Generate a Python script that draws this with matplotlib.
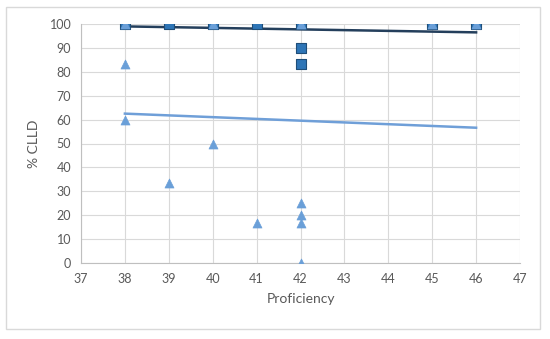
import matplotlib
import numpy as np

matplotlib.use('Agg')
import matplotlib.pyplot as plt
from matplotlib.patches import Rectangle

# данные: квадраты (тёмно-синие) и треугольники (светло-синие)
sq_x = [38, 39, 40, 41, 42, 42, 42, 45, 46]
sq_y = [100, 100, 100, 100, 100, 90, 83.3, 100, 100]

tri_x = [38, 38, 38, 39, 40, 40, 41, 42, 42, 42, 42, 42, 45, 46]
tri_y = [100, 83.3, 60, 33.3, 100, 50, 16.7, 100, 25, 20, 16.7, 0, 100, 100]

# линии тренда (концы)
trend_x = [38, 46]
trend_sq_y = [99.0, 96.5]
trend_tri_y = [62.5, 56.6]

x_ticks = list(range(37, 48))
y_ticks = list(range(0, 101, 10))

plt.rcParams['font.family'] = ['Lato', 'DejaVu Sans']

fig = plt.figure(figsize=(5.5, 3.39), dpi=100)
ax = fig.add_axes([81 / 550, 1 - 263 / 339, (520 - 81) / 550, (263 - 24) / 339])

# рамка вокруг диаграммы
fig.patches.append(Rectangle((6 / 550, 1 - 329 / 339), 534 / 550, 322 / 339,
                             transform=fig.transFigure, fill=False,
                             edgecolor='#d9d9d9', linewidth=1))

ax.plot(trend_x, trend_sq_y, color='#243f5c', linewidth=1.8, zorder=2)
ax.plot(trend_x, trend_tri_y, color='#6f9fd8', linewidth=1.8, zorder=2)

ax.scatter(sq_x, sq_y, marker='s', s=45, color='#2e75b6', edgecolors='#1f4e79',
           linewidths=0.8, zorder=3)
ax.scatter(tri_x, tri_y, marker='^', s=42, color='#6a9fd8', edgecolors='#6a9fd8',
           linewidths=0.5, zorder=4)

ax.set_xlim(37, 47)
ax.set_ylim(0, 100)
ax.set_xticks(x_ticks)
ax.set_yticks(y_ticks)
ax.grid(True, color='#d9d9d9', linewidth=0.8)
ax.set_axisbelow(True)
for s in ['top', 'right']:
    ax.spines[s].set_visible(False)
for s in ['left', 'bottom']:
    ax.spines[s].set_color('#bfbfbf')
ax.tick_params(length=0, colors='#595959', labelsize=9, pad=7)

ax.set_xlabel('Proficiency', color='#595959', fontsize=10, labelpad=6)
ax.set_ylabel('% CLLD', color='#595959', fontsize=10, labelpad=7)

plt.savefig('out.png', dpi=100)
